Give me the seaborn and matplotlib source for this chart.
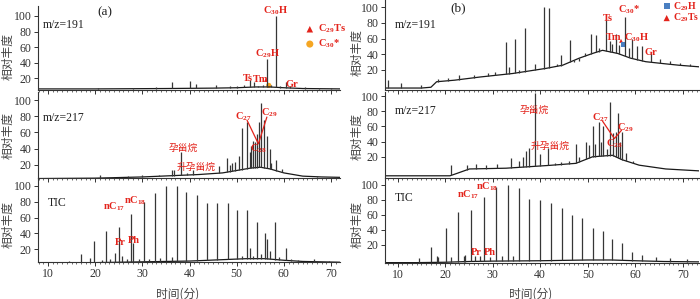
import matplotlib
matplotlib.use('Agg')
import matplotlib.pyplot as plt
import seaborn as sns
import numpy as np
from matplotlib.ticker import MultipleLocator

sns.set_style('ticks')
plt.rcParams['font.family'] = ['Liberation Serif', 'Noto Sans CJK SC']
plt.rcParams['mathtext.fontset'] = 'custom'
plt.rcParams['mathtext.rm'] = 'Liberation Serif'
plt.rcParams['mathtext.bf'] = 'Liberation Serif:bold'
plt.rcParams['mathtext.default'] = 'bf'

RED = '#e3231b'
CJK = ['Noto Sans CJK SC', 'DejaVu Sans']

# ---------------- (a) m/z=191 ----------------
a191_base_t = [7.9, 20, 35, 45, 50, 54, 57, 60, 64, 72]
a191_base_v = [6.5, 6.5, 7, 7.5, 8, 9, 9, 8, 7, 6.5]
a191_peak_t = [20.5, 28.0, 33.0, 36.2, 40.1, 41.4, 45.7, 48.5, 50.0, 51.5, 52.8, 53.7, 54.5,
               55.5, 56.5, 57.2, 58.3, 59.2, 60.4, 61.3, 62.5, 64.5, 67.5, 70.0]
a191_peak_v = [8, 8, 9, 15, 16, 13, 12, 10, 10, 11, 18, 15, 10,
               11, 45, 12, 100, 10, 15, 10, 8, 9, 8, 7.5]

# ---------------- (a) m/z=217 ----------------
a217_base_t = [7.9, 20, 30, 36, 42, 47, 50, 53, 55, 57, 60, 64, 68, 72]
a217_base_v = [3, 3.5, 5, 6.5, 8, 10, 13, 16, 17, 15, 10, 6, 5, 4.5]
a217_peak_t = [21.0, 27, 30, 33.5, 36.3, 36.8, 38.3, 39.5, 40.8, 43.7, 46.2, 47.9, 48.6, 49.0,
               49.7, 50.4, 51.2, 52.1, 52.8, 53.1, 53.5, 53.9, 54.3, 54.7, 55.1, 55.8, 56.5,
               57.0, 57.3, 58.4, 59.5, 62, 67]
a217_peak_v = [7.5, 6, 7, 8, 13, 14, 36, 10, 13, 9, 18, 28, 20, 22,
               24, 31, 65, 73, 36, 43, 50, 48, 58, 73, 97, 75, 55,
               40, 22, 26, 15, 8, 6]

# ---------------- (a) TIC ----------------
atic_base_t = [7.9, 20, 25, 30, 40, 48, 52, 56, 60, 64, 72]
atic_base_v = [3, 3, 3.5, 4, 5, 7, 8, 8, 6, 4.5, 3.5]
atic_peak_t = [14.5, 17.0, 18.8, 19.7, 21.5, 22.4, 23.2, 24.1, 25.1, 25.6, 26.8, 27.7, 28.1,
               29.2, 30.3, 31.5, 32.7, 33.8, 35.0, 36.2, 37.3, 39.2, 41.5, 43.6, 45.9, 48.1,
               50.1, 51.2, 52.2, 52.8, 53.5, 54.2, 55.2, 56.1, 56.4, 57.0, 58.2, 59.0, 60.4,
               61.5, 63.0, 66.3, 69.5]
atic_peak_v = [5, 13.5, 9, 30, 6, 43, 8, 15, 48, 12, 7, 64, 28,
               7, 80, 8, 91, 9, 100, 10, 100, 92, 89, 78, 78, 78,
               69, 12, 70, 21, 12, 55, 14, 40, 33, 18, 55, 10, 21,
               8, 6, 8, 5]

# ---------------- (b) m/z=191 ----------------
b191_base_t = [7.3, 15, 17, 18.2, 22, 27.3, 34.2, 41.2, 44.7, 48.2, 51, 53.1, 56.3, 59,
               62.2, 66, 69.2, 73.4]
b191_base_v = [-3, -3, -2, 5, 7, 11, 15.5, 22, 26, 35, 41, 45, 41, 35,
               30.5, 28, 26, 24]
b191_peak_t = [7.9, 10.8, 15.0, 18.5, 20.5, 23, 26, 29, 30.5, 32.7, 33.4, 34.7, 35.5, 36.8,
               38.8, 40.7, 41.9, 43.6, 44.4, 46.3, 47.2, 48.2, 49.5, 50.7, 51.8, 52.3, 53.8,
               54.6, 55.2, 55.9, 56.5, 57.9, 58.6, 59.3, 60.3, 61.5, 63.2, 65.3, 67.2, 69.5,
               71.5]
b191_peak_v = [7, 3, 1, 9, 10, 13, 14, 16, 17, 55, 24, 60, 20, 74,
               28, 100, 99, 28, 39, 58, 30, 31, 42, 66, 65, 48, 85,
               57, 53, 66, 52, 87, 48, 60, 50, 50, 42, 34, 32, 29,
               27]

# ---------------- (b) m/z=217 ----------------
b217_base_t = [7.3, 21, 22.4, 25.1, 32.8, 41.9, 47.5, 51.0, 55.2, 57.3, 60.8, 66.4, 73.4]
b217_base_v = [-5, -5, -2, 4, 5, 8.7, 11.4, 20, 22, 16, 9, 4, 1.5]
b217_peak_t = [21.3, 24.5, 26.5, 28.5, 31, 33.8, 35.5, 36.3, 37.0, 37.7, 39.0, 40.0, 41.6,
               43.0, 44.3, 46.0, 47.5, 48.2, 49.6, 50.3, 51.0, 51.6, 52.3, 52.8, 53.3, 54.0,
               54.6, 55.3, 55.9, 56.3, 56.8, 57.3, 58.0, 59.5]
b217_peak_v = [9, 9, 10, 9, 11, 19, 15, 20, 27, 31, 104, 24, 32,
               12, 13, 14, 37, 20, 40, 35, 60, 37, 66, 40, 61, 30,
               92, 51, 53, 78, 40, 52, 25, 15]

# ---------------- (b) TIC ----------------
btic_base_t = [7.3, 14, 20, 25, 30, 40, 50, 55, 60, 66, 73.4]
btic_base_v = [-3.5, -3.5, -3, -2, -1.5, -1, 0, 0, -1, -2, -2.5]
btic_peak_t = [14.5, 17.1, 18.2, 18.5, 20.1, 21.3, 22.7, 23.9, 24.2, 25.5, 26.3, 27.3, 28.1,
               29.5, 30.75, 32.0, 33.2, 34.3, 35.5, 37.7, 40.0, 42.3, 44.6, 46.7, 48.8, 51.0,
               53.2, 55.2, 57.3, 59.4, 61.5, 64.3, 67.4, 70.9]
btic_peak_v = [2, 17, 5, 4, 42, 4, 64, 5, 7, 67, 5, 5, 84,
               4, 97, 5, 100, 5, 96, 81, 80, 76, 69, 60, 56, 42,
               38, 28, 22, 11, 6, 4, 2.5, 1.5]

y_ticks = [20, 40, 60, 80, 100]
x_ticks = [10, 20, 30, 40, 50, 60, 70]

W, H = 700, 299
fig = plt.figure(figsize=(7, 2.99), dpi=100)


def add_panel(x0, x1, top, bot, xlim, ylim, bottom_labels):
    ax = fig.add_axes([x0 / W, 1 - bot / H, (x1 - x0) / W, (bot - top) / H])
    ax.set_xlim(*xlim)
    ax.set_ylim(*ylim)
    ax.patch.set_alpha(0)
    for s in ['top', 'right']:
        ax.spines[s].set_visible(False)
    for s in ['left', 'bottom']:
        ax.spines[s].set_linewidth(0.8)
        ax.spines[s].set_color('#333333')
    ax.set_yticks(y_ticks)
    ax.set_xticks(x_ticks)
    ax.xaxis.set_minor_locator(MultipleLocator(1))
    ax.tick_params(axis='both', which='major', direction='out', length=3, width=0.7,
                   labelsize=8.5, colors='#333333', pad=1.5)
    ax.tick_params(axis='x', which='minor', direction='out', length=1.6, width=0.5,
                   colors='#333333')
    if not bottom_labels:
        ax.set_xticklabels([])
    return ax


def draw_trace(ax, base_t, base_v, peak_t, peak_v):
    sns.lineplot(x=base_t, y=base_v, ax=ax, color='#1a1a1a', lw=0.9)
    bottoms = np.interp(peak_t, base_t, base_v)
    ax.vlines(peak_t, bottoms, peak_v, color='#363636', lw=0.9)
    ax.set_xlabel('')
    ax.set_ylabel('')


lx = (38, 340)
rx = (385, 699)
lxlim = (7.88, 71.9)
rxlim = (7.34, 73.4)

ax_a1 = add_panel(*lx, 6, 90, lxlim, (5.1, 112.8), False)
ax_a2 = add_panel(*lx, 92, 178, lxlim, (3.7, 110), False)
ax_a3 = add_panel(*lx, 178, 262, lxlim, (3.8, 110), True)
ax_b1 = add_panel(*rx, 0, 90, rxlim, (-5.5, 109), False)
ax_b2 = add_panel(*rx, 92, 177.7, rxlim, (-7.5, 105.3), False)
ax_b3 = add_panel(*rx, 178, 263, rxlim, (-4, 109), True)

draw_trace(ax_a1, a191_base_t, a191_base_v, a191_peak_t, a191_peak_v)
draw_trace(ax_a2, a217_base_t, a217_base_v, a217_peak_t, a217_peak_v)
draw_trace(ax_a3, atic_base_t, atic_base_v, atic_peak_t, atic_peak_v)
draw_trace(ax_b1, b191_base_t, b191_base_v, b191_peak_t, b191_peak_v)
draw_trace(ax_b2, b217_base_t, b217_base_v, b217_peak_t, b217_peak_v)
draw_trace(ax_b3, btic_base_t, btic_base_v, btic_peak_t, btic_peak_v)

lab = dict(color=RED, fontsize=7.5, fontweight='bold', ha='center', va='center')
cjk = dict(color=RED, fontsize=7, ha='center', va='center', family=CJK)
ion = dict(fontsize=8.5, color='#222222', ha='left', va='center')

# (a) m/z=191
ax_a1.text(22, 105, '(a)', fontsize=9.5, ha='center', va='center', color='#222222')
ax_a1.text(8.8, 88, 'm/z=191', **ion)
ax_a1.text(58.3, 107, r'C$_{30}$H', **lab)
ax_a1.text(56.5, 52, r'C$_{29}$H', **lab)
ax_a1.text(52.3, 20, 'Ts', **lab)
ax_a1.text(55.0, 18, 'Tm', **lab)
ax_a1.text(61.8, 12, 'Gr', **lab)
sns.scatterplot(x=[56.2], y=[18], marker='^', color=RED, s=8, ax=ax_a1, edgecolor='none')
sns.scatterplot(x=[56.8], y=[11], marker='o', color='#f5a623', s=14, ax=ax_a1, edgecolor='none')
sns.scatterplot(x=[65.5], y=[83], marker='^', color=RED, s=22, ax=ax_a1, edgecolor='none')
sns.scatterplot(x=[65.5], y=[64], marker='o', color='#f5a623', s=26, ax=ax_a1, edgecolor='none')
ax_a1.text(67.2, 83, r'C$_{29}$Ts', color=RED, fontsize=7.5, fontweight='bold', va='center')
ax_a1.text(67.2, 64, r'C$_{30}$*', color=RED, fontsize=7.5, fontweight='bold', va='center')

# (a) m/z=217
ax_a2.text(8.8, 78, 'm/z=217', **ion)
ax_a2.text(38.6, 41, '孕甾烷', **cjk)
ax_a2.text(41.3, 18, '升孕甾烷', **cjk)
ax_a2.text(51.4, 80, r'C$_{27}$', **lab)
ax_a2.text(56.9, 84, r'C$_{29}$', **lab)
ax_a2.text(54.6, 40, r'C$_{28}$', **lab)
ax_a2.plot([52.2, 54.6, 56.4], [75, 46, 79], color=RED, lw=0.9)

# (a) TIC
ax_a3.text(10.0, 78, 'TIC', **ion)
ax_a3.text(24.0, 74, r'nC$_{17}$', **lab)
ax_a3.text(28.4, 81, r'nC$_{18}$', **lab)
ax_a3.text(25.4, 28, 'Pr', **lab)
ax_a3.text(28.1, 31, 'Ph', **lab)

# (b) m/z=191
ax_b1.text(22.7, 98, '(b)', fontsize=9.5, ha='center', va='center', color='#222222')
ax_b1.text(9.5, 77, 'm/z=191', **ion)
ax_b1.text(54.3, 86, 'Ts', **lab)
ax_b1.text(58.7, 97, r'C$_{30}$*', **lab)
ax_b1.text(55.4, 61, 'Tm', **lab)
ax_b1.text(60.3, 61, r'C$_{30}$H', **lab)
ax_b1.text(63.3, 42, 'Gr', **lab)
sns.scatterplot(x=[57.0], y=[57], marker='^', color=RED, s=8, ax=ax_b1, edgecolor='none')
sns.scatterplot(x=[57.4], y=[52], marker='s', color='#4a7fc1', s=12, ax=ax_b1, edgecolor='none')
sns.scatterplot(x=[66.6], y=[101], marker='s', color='#4a7fc1', s=20, ax=ax_b1, edgecolor='none')
sns.scatterplot(x=[66.6], y=[86], marker='^', color=RED, s=20, ax=ax_b1, edgecolor='none')
ax_b1.text(67.9, 101, r'C$_{29}$H', color=RED, fontsize=7, fontweight='bold', va='center')
ax_b1.text(67.9, 86, r'C$_{29}$Ts', color=RED, fontsize=7, fontweight='bold', va='center')

# (b) m/z=217
ax_b2.text(9.5, 80, 'm/z=217', **ion)
ax_b2.text(38.8, 82, '孕甾烷', **cjk)
ax_b2.text(42.1, 35, '升孕甾烷', **cjk)
ax_b2.text(52.6, 72, r'C$_{27}$', **lab)
ax_b2.text(57.8, 58, r'C$_{29}$', **lab)
ax_b2.text(55.5, 37, r'C$_{28}$', **lab)
ax_b2.plot([53.1, 55.6, 57.1], [67, 44, 55], color=RED, lw=0.9)

# (b) TIC
ax_b3.text(9.5, 83, 'TIC', **ion)
ax_b3.text(24.8, 87, r'nC$_{17}$', **lab)
ax_b3.text(28.8, 98, r'nC$_{18}$', **lab)
ax_b3.text(26.6, 10, 'Pr', **lab)
ax_b3.text(29.3, 10, 'Ph', **lab)

# axis titles
for x, ys in [(8, [56, 136, 225]), (357, [53, 137, 225])]:
    for y in ys:
        fig.text(x / W, 1 - y / H, '相对丰度', rotation=90, ha='center', va='center',
                 fontsize=8.5, color='#444444', family=CJK)
fig.text(178 / W, 1 - 294 / H, '时间(分)', ha='center', va='center', fontsize=8.5,
         color='#444444', family=CJK)
fig.text(531 / W, 1 - 294 / H, '时间(分)', ha='center', va='center', fontsize=8.5,
         color='#444444', family=CJK)

fig.savefig('out.png', dpi=100)
